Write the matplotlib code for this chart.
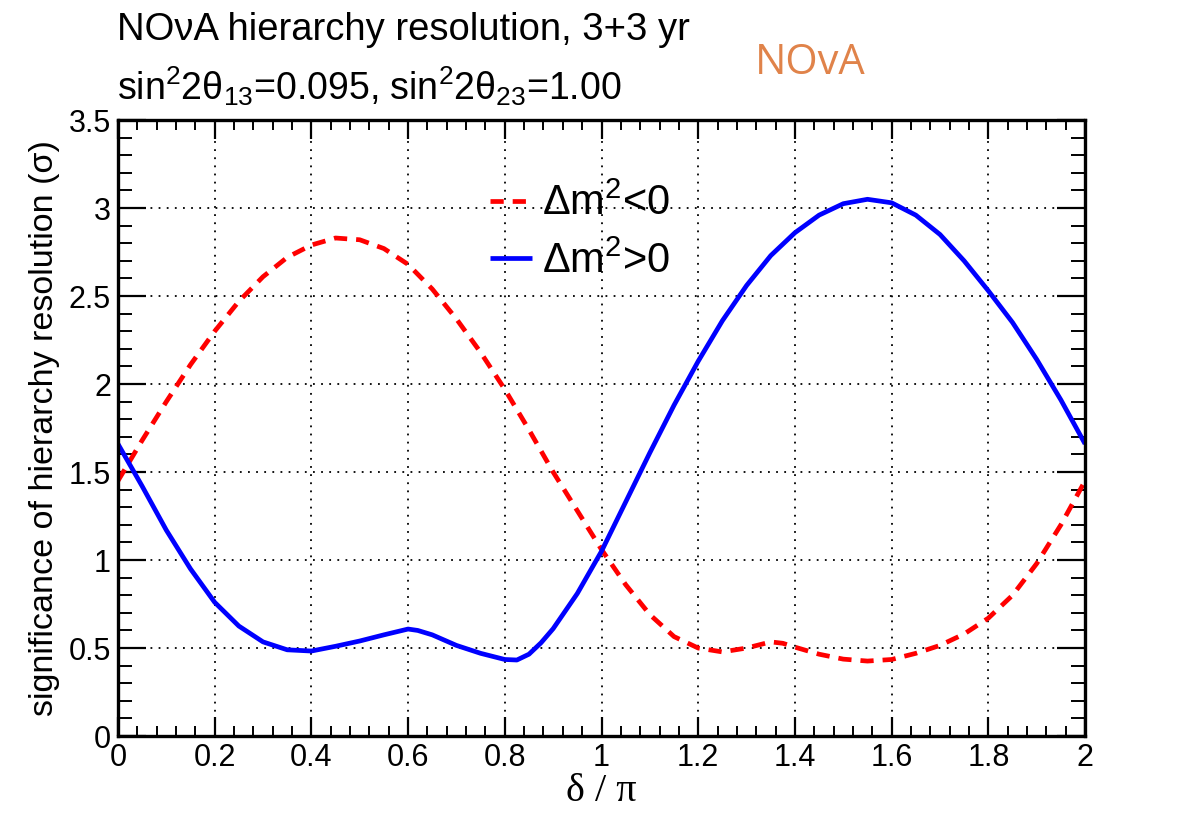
import matplotlib
matplotlib.use("Agg")
import matplotlib.pyplot as plt
from matplotlib.ticker import MultipleLocator

plt.rcParams["font.family"] = ["Liberation Sans", "DejaVu Sans"]
plt.rcParams["mathtext.fontset"] = "custom"
plt.rcParams["mathtext.rm"] = "Liberation Sans"
plt.rcParams["mathtext.it"] = "Liberation Sans"
plt.rcParams["mathtext.bf"] = "Liberation Sans"

# delta/pi values and significance
delta_ih = [0.00, 0.05, 0.10, 0.15, 0.20, 0.25, 0.30, 0.35, 0.40, 0.45,
            0.50, 0.55, 0.60, 0.65, 0.70, 0.75, 0.80, 0.85, 0.90, 0.95,
            1.00, 1.05, 1.10, 1.15, 1.20, 1.25, 1.30, 1.35, 1.375, 1.40,
            1.45, 1.50, 1.55, 1.60, 1.65, 1.70, 1.75, 1.80, 1.85, 1.90,
            1.95, 2.00]
sig_ih = [1.45, 1.68, 1.90, 2.11, 2.30, 2.47, 2.61, 2.72, 2.79, 2.83,
          2.82, 2.77, 2.68, 2.54, 2.37, 2.18, 1.97, 1.74, 1.50, 1.28,
          1.06, 0.86, 0.69, 0.565, 0.50, 0.478, 0.50, 0.535, 0.527, 0.505,
          0.465, 0.437, 0.426, 0.435, 0.47, 0.515, 0.58, 0.67, 0.80, 0.98,
          1.20, 1.45]

delta_nh = [0.00, 0.05, 0.10, 0.15, 0.20, 0.25, 0.30, 0.35, 0.40, 0.45,
            0.50, 0.55, 0.60, 0.62, 0.65, 0.70, 0.75, 0.80, 0.825, 0.85,
            0.875, 0.90, 0.95, 1.00, 1.05, 1.10, 1.15, 1.20, 1.25, 1.30,
            1.35, 1.40, 1.45, 1.50, 1.55, 1.60, 1.65, 1.70, 1.75, 1.80,
            1.85, 1.90, 1.95, 2.00]
sig_nh = [1.66, 1.42, 1.17, 0.95, 0.76, 0.625, 0.535, 0.49, 0.483, 0.51,
          0.54, 0.575, 0.608, 0.60, 0.575, 0.515, 0.47, 0.435, 0.432, 0.465,
          0.53, 0.61, 0.81, 1.05, 1.33, 1.61, 1.88, 2.13, 2.36, 2.56,
          2.73, 2.86, 2.96, 3.025, 3.05, 3.03, 2.96, 2.85, 2.70, 2.53,
          2.35, 2.14, 1.91, 1.66]

x_ticks = [0, 0.2, 0.4, 0.6, 0.8, 1, 1.2, 1.4, 1.6, 1.8, 2]
x_tick_labels = ["0", "0.2", "0.4", "0.6", "0.8", "1", "1.2", "1.4", "1.6", "1.8", "2"]
y_ticks = [0, 0.5, 1, 1.5, 2, 2.5, 3, 3.5]
y_tick_labels = ["0", "0.5", "1", "1.5", "2", "2.5", "3", "3.5"]

fig = plt.figure(figsize=(11.95, 8.17), dpi=100)
ax = fig.add_axes([0.0987, 0.0991, 0.8093, 0.7539])

ax.plot(delta_ih, sig_ih, color="#ff0000", lw=3.4, dashes=(2.8, 1.9),
        label=r"$\Delta$m$^2$<0", solid_joinstyle="round")
ax.plot(delta_nh, sig_nh, color="#0000ff", lw=3.4, label=r"$\Delta$m$^2$>0",
        solid_capstyle="butt", solid_joinstyle="round")

ax.set_xlim(0, 2)
ax.set_ylim(0, 3.5)
ax.set_xticks(x_ticks)
ax.set_xticklabels(x_tick_labels)
ax.set_yticks(y_ticks)
ax.set_yticklabels(y_tick_labels)
ax.xaxis.set_minor_locator(MultipleLocator(0.04))
ax.yaxis.set_minor_locator(MultipleLocator(0.1))

ax.grid(True, which="major", color="black", linestyle=(0, (1, 3.5)), lw=1.3)
ax.tick_params(which="both", direction="in", top=True, right=True,
               labelsize=22, color="black")
ax.tick_params(axis="x", which="major", length=14, width=1.6, pad=5)
ax.tick_params(axis="x", which="minor", length=7, width=1.4)
ax.tick_params(axis="y", which="major", length=20, width=1.6, pad=5)
ax.tick_params(axis="y", which="minor", length=10, width=1.4)
for sp in ax.spines.values():
    sp.set_linewidth(2.4)

ax.set_xlabel(r"δ / π", fontsize=29, family=["Liberation Serif", "DejaVu Serif"],
              labelpad=0)
ax.set_ylabel("significance of hierarchy resolution (σ)", fontsize=24.5, labelpad=6)

leg = ax.legend(loc="center left", bbox_to_anchor=(0.385, 0.817), frameon=False,
                fontsize=30, handlelength=1.0, handletextpad=0.25,
                labelspacing=0.4, borderaxespad=0, borderpad=0)

fig.text(0.098, 0.951, "NOνA hierarchy resolution, 3+3 yr", fontsize=27.5,
         ha="left", va="baseline")
fig.text(0.098, 0.878, r"sin$^2$2θ$_{13}$=0.095, sin$^2$2θ$_{23}$=1.00",
         fontsize=27, ha="left", va="baseline")
fig.text(0.632, 0.909, "NOvA", fontsize=30, color="#e0834a",
         family=["Open Sans", "DejaVu Sans"], ha="left", va="baseline")

fig.savefig("out.png", dpi=100)
